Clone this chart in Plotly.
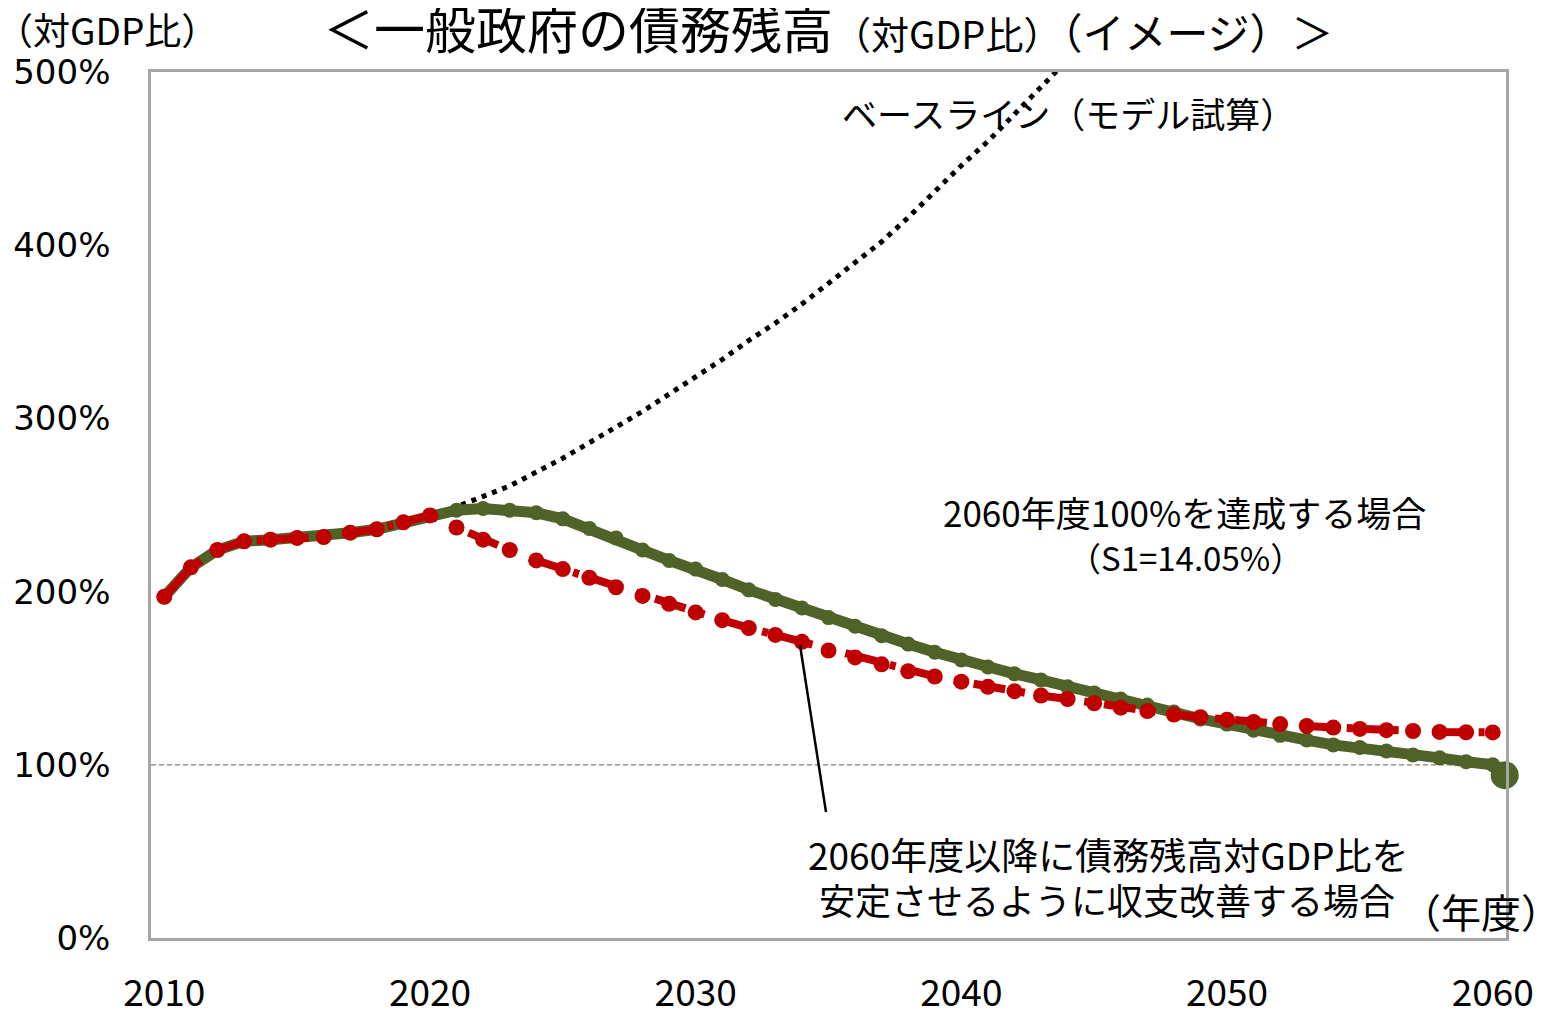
import plotly.graph_objects as go

# ---------------- data ----------------
YEARS = list(range(2010, 2061))

# 2060年度以降に債務残高対GDP比を安定させるように収支改善する場合
RED_VALUES = [197, 214, 224, 229, 230, 231, 231.5, 234, 236, 240,
              244, 237, 230, 224, 218, 213, 208, 202.5, 197.5, 193,
              188, 183.5, 179, 175, 171, 166, 162, 158, 154, 151,
              148, 145, 142.5, 140, 138, 135.5, 133, 131, 129, 127.5,
              126, 124.7, 123.5, 122.4, 121.5, 120.7, 120, 119.5, 119, 118.8,
              118.7]

# 2060年度100%を達成する場合
GREEN_VALUES = [197, 214, 224, 229, 230, 231, 231.5, 234, 236, 240,
                244, 247, 248, 247, 245.5, 242, 236.5, 231, 224, 218,
                213, 207, 201, 195.5, 190.5, 185, 180, 174.5, 169.7, 165,
                160.5, 156.5, 152.5, 149, 145, 141.5, 138, 134.5, 130.5, 126.5,
                123.5, 120, 117, 114.3, 111.5, 110, 108, 105.7, 104, 101.8,
                100]

# ベースライン（モデル試算）
BASE_YEARS = list(range(2020, 2045))
BASE_VALUES = [244, 249, 255, 261, 269, 277, 286, 295, 304, 314,
               324, 334, 345, 355, 366, 378, 390, 402, 416, 431,
               446, 460, 476, 491, 507]

END_MARKER_YEAR = [2060.45]
END_MARKER_VALUE = [94]

TARGET = 100
Y_TICKS = [0, 100, 200, 300, 400, 500]
Y_TICK_TEXT = [f"{v}%" for v in Y_TICKS]
X_TICKS = [2010, 2020, 2030, 2040, 2050, 2060]

# ---------------- styling / layout helpers ----------------
OFF = 8                      # default body margin of the html page
PAGE_W, PAGE_H = 1553, 1012
W, H = PAGE_W - OFF, PAGE_H - OFF
L, R, T, B = 151, 1506, 72, 938   # plot area in page pixels
JP = "Noto Sans CJK JP"
GREEN = "#4f6228"
RED = "#c00000"


def px(x):
    return (x - L) / (R - L)


def py(y):
    return (B - y) / (B - T)


fig = go.Figure()

fig.add_trace(go.Scatter(
    x=BASE_YEARS, y=BASE_VALUES, mode="lines",
    line=dict(color="black", width=5, dash="5px,6px"),
    showlegend=False, hoverinfo="skip"))

fig.add_trace(go.Scatter(
    x=YEARS, y=GREEN_VALUES, mode="lines+markers",
    line=dict(color=GREEN, width=11),
    marker=dict(color=GREEN, size=15),
    showlegend=False, cliponaxis=False))

fig.add_trace(go.Scatter(
    x=YEARS, y=RED_VALUES, mode="lines+markers",
    line=dict(color=RED, width=8, dash="32px,14px,6px,14px"),
    marker=dict(color=RED, size=16),
    showlegend=False, cliponaxis=False))

fig.add_trace(go.Scatter(
    x=END_MARKER_YEAR, y=END_MARKER_VALUE, mode="markers",
    marker=dict(color=GREEN, size=28),
    showlegend=False, cliponaxis=False))

fig.add_hline(y=TARGET, line=dict(color="#808080", width=1.2, dash="5px,3px"), layer="below")

annotations = [
    dict(x=px(321), y=py(27), xanchor="left", yanchor="middle",
         text=('＜一般政府の債務残高<span style="font-size:38px">（対GDP比）</span>'
               '<span style="font-size:42px">（イメージ）＞</span>'),
         font=dict(family=JP, size=51, color="black")),
    dict(x=px(-6), y=py(29), xanchor="left", yanchor="middle",
         text="（対GDP比）", font=dict(family=JP, size=37, color="black")),
    dict(x=px(1068), y=py(112), xanchor="center", yanchor="middle",
         text="ベースライン（モデル試算）", font=dict(family=JP, size=35, color="black")),
    dict(x=px(1184), y=py(512), xanchor="center", yanchor="middle",
         text="2060年度100%を達成する場合", font=dict(family=JP, size=35, color="black")),
    dict(x=px(1185), y=py(557), xanchor="center", yanchor="middle",
         text="（S1=14.05%）", font=dict(family=JP, size=33, color="black")),
    dict(x=px(1108), y=py(854), xanchor="center", yanchor="middle",
         text="2060年度以降に債務残高対GDP比を", font=dict(family=JP, size=37, color="black")),
    dict(x=px(1107), y=py(899), xanchor="center", yanchor="middle",
         text="安定させるように収支改善する場合", font=dict(family=JP, size=36, color="black")),
    dict(x=px(1481), y=py(911), xanchor="center", yanchor="middle",
         text="（年度）", font=dict(family=JP, size=40, color="black")),
]
for a in annotations:
    a.update(xref="paper", yref="paper", showarrow=False)

shapes = [
    dict(type="line", xref="paper", yref="paper",
         x0=px(950), y0=py(537), x1=px(886), y1=py(624),
         line=dict(color="black", width=2.5)),
    dict(type="line", xref="paper", yref="paper",
         x0=px(800), y0=py(645), x1=px(826), y1=py(812),
         line=dict(color="black", width=2.5)),
]

fig.update_layout(
    width=W, height=H,
    margin=dict(l=L - OFF, r=W - (R - OFF), t=T - OFF, b=H - (B - OFF), pad=0, autoexpand=False),
    paper_bgcolor="white", plot_bgcolor="white",
    annotations=annotations, shapes=shapes,
    showlegend=False,
    xaxis=dict(range=[2009.5, 2060.5], tickmode="array", tickvals=X_TICKS,
               showgrid=False, zeroline=False, automargin=False,
               showline=True, mirror=True, linecolor="#a6a6a6", linewidth=2.5,
               ticks="", ticklabelstandoff=21,
               tickfont=dict(family=JP, size=37, color="black")),
    yaxis=dict(range=[0, 500], tickmode="array", tickvals=Y_TICKS, ticktext=Y_TICK_TEXT,
               showgrid=False, zeroline=False, automargin=False,
               showline=True, mirror=True, linecolor="#a6a6a6", linewidth=2.5,
               ticks="", ticklabelstandoff=31,
               tickfont=dict(family="DejaVu Sans", size=34, color="black")),
)

fig.write_html("out.html")
